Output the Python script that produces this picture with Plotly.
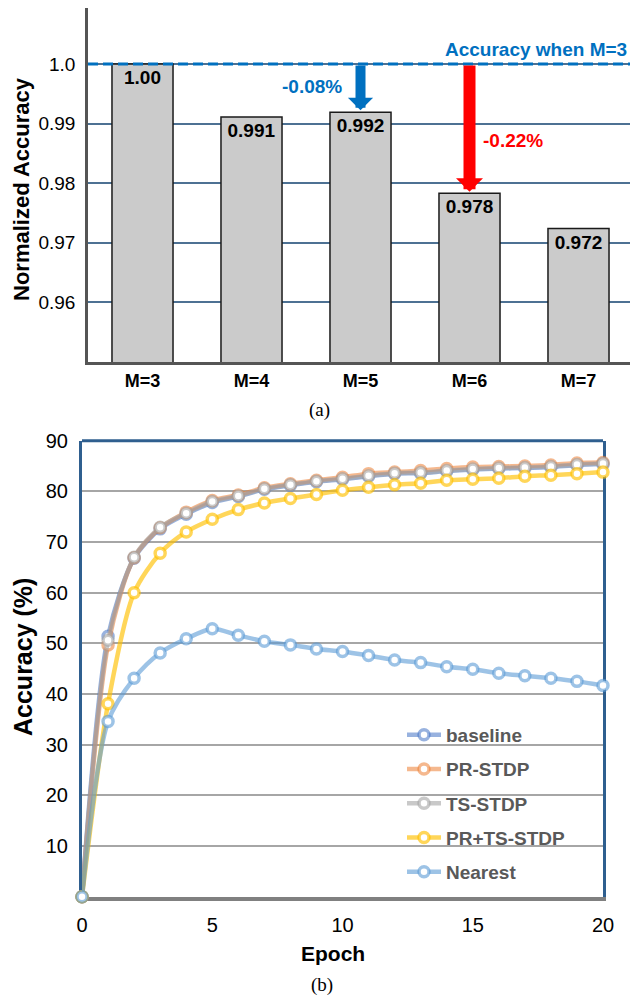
import plotly.graph_objects as go

# The page body has an 8px default margin, so the figure starts 8px in from
# the window's top-left corner; size it so it ends at the window's edges.
PAGE_MARGIN = 8
W, H = 638 - PAGE_MARGIN, 999 - PAGE_MARGIN

# ---------------- data: (a) ----------------
m_labels = ["M=3", "M=4", "M=5", "M=6", "M=7"]
norm_acc = [1.0, 0.9911, 0.9919, 0.9783, 0.9724]
norm_acc_text = ["1.00", "0.991", "0.992", "0.978", "0.972"]
a_ticks = [0.96, 0.97, 0.98, 0.99, 1.0]
a_ticktext = ["0.96", "0.97", "0.98", "0.99", "1.0"]

# ---------------- data: (b) ----------------
epochs = list(range(0, 21))
baseline = [0, 51.4, 66.8, 72.6, 75.5, 77.8, 79.0, 80.4, 81.2, 81.9, 82.4,
            83.0, 83.5, 83.6, 84.0, 84.3, 84.5, 84.6, 84.8, 85.2, 85.4]
pr_stdp = [0, 49.7, 66.9, 72.8, 75.9, 78.2, 79.3, 80.7, 81.5, 82.2, 82.8,
           83.5, 83.8, 84.1, 84.5, 84.8, 84.9, 85.0, 85.2, 85.6, 85.7]
ts_stdp = [0, 50.6, 67.0, 72.9, 75.7, 78.0, 79.1, 80.5, 81.3, 82.0, 82.5,
           83.1, 83.6, 83.7, 84.1, 84.4, 84.6, 84.7, 84.9, 85.3, 85.5]
pr_ts_stdp = [0, 38.1, 60.0, 67.8, 72.0, 74.5, 76.4, 77.7, 78.6, 79.4, 80.2,
              80.8, 81.3, 81.6, 82.2, 82.4, 82.6, 83.0, 83.2, 83.5, 83.8]
nearest = [0, 34.6, 43.1, 48.1, 50.9, 52.9, 51.6, 50.4, 49.7, 48.9, 48.4,
           47.6, 46.7, 46.2, 45.4, 44.9, 44.1, 43.6, 43.1, 42.5, 41.7]
b_xticks = [0, 5, 10, 15, 20]
b_yticks = [10, 20, 30, 40, 50, 60, 70, 80, 90]

series = [
    ("baseline", baseline, "rgba(68,114,196,0.55)"),
    ("PR-STDP", pr_stdp, "rgba(237,125,49,0.55)"),
    ("TS-STDP", ts_stdp, "rgba(165,165,165,0.6)"),
    ("PR+TS-STDP", pr_ts_stdp, "rgba(255,192,0,0.65)"),
    ("Nearest", nearest, "rgba(91,155,213,0.6)"),
]

SANS = "Liberation Sans, Arial, sans-serif"
SERIF = "Liberation Serif, Times New Roman, serif"

fig = go.Figure()

fig.add_trace(go.Bar(
    x=m_labels, y=norm_acc, text=norm_acc_text,
    textposition="inside", insidetextanchor="end", textangle=0,
    textfont=dict(family=SANS, size=19, color="black", weight="bold"),
    marker=dict(color="#cbcbcb", line=dict(color="#1a1a1a", width=1.5)),
    width=0.56, xaxis="x", yaxis="y", showlegend=False,
))

for i, (name, vals, col) in enumerate(series):
    fig.add_trace(go.Scatter(
        x=epochs, y=vals, name=name, mode="lines+markers",
        line=dict(color=col, width=4.5, shape="spline", smoothing=0.8),
        marker=dict(symbol="circle", size=10, color="white",
                    line=dict(color=col, width=3.5)),
        xaxis="x2", yaxis="y2", cliponaxis=False, legendgroup=f"g{i}",
    ))


def px_x(p):
    return min(1.0, max(0.0, (p - PAGE_MARGIN) / W))


def px_y(p):
    return min(1.0, max(0.0, 1 - (p - PAGE_MARGIN) / H))


def label(xp, yp, text, size, color="black", bold=True, family=SANS, angle=0,
          xanchor="center"):
    return dict(x=px_x(xp), y=px_y(yp), xref="paper", yref="paper", text=text,
                showarrow=False, textangle=angle, xanchor=xanchor, yanchor="middle",
                font=dict(family=family, size=size, color=color,
                          weight="bold" if bold else "normal"))


annotations = [
    # arrows from the M=3 reference level down to the bars
    dict(x="M=5", y=norm_acc[2], ax="M=5", ay=norm_acc[0], xref="x", yref="y",
         axref="x", ayref="y", text="", showarrow=True, arrowhead=1,
         arrowwidth=10, arrowsize=0.42, arrowcolor="#0070c0", standoff=2),
    dict(x="M=6", y=norm_acc[3], ax="M=6", ay=norm_acc[0], xref="x", yref="y",
         axref="x", ayref="y", text="", showarrow=True, arrowhead=1,
         arrowwidth=12, arrowsize=0.375, arrowcolor="#ff0000", standoff=1.5),
    label(312, 86, "-0.08%", 19, "#0070c0"),
    label(513, 141, "-0.22%", 19, "#ff0000"),
    label(629, 49, "Accuracy when M=3", 19, "#0070c0", xanchor="right"),
    label(22, 189, "Normalized Accuracy", 22, angle=-90),
    label(319, 410, "(a)", 19, bold=False, family=SERIF),
    label(23, 657, "Accuracy (%)", 25, angle=-90),
    label(333, 953, "Epoch", 21),
    label(322, 985, "(b)", 19, bold=False, family=SERIF),
]

shapes = [
    # reference level (accuracy when M=3)
    dict(type="line", xref="paper", yref="y", x0=px_x(88), x1=1.0,
         y0=norm_acc[0], y1=norm_acc[0], layer="above",
         line=dict(color="#0070c0", width=3, dash="10px,5px")),
    # top frame of chart (b)
    dict(type="line", xref="x2 domain", yref="y2 domain", x0=0, x1=1, y0=1, y1=1,
         layer="above", line=dict(color="#2f5f8f", width=3)),
    # white legend panel covering the gridlines
    dict(type="rect", xref="paper", yref="paper", x0=px_x(377), x1=px_x(591),
         y0=px_y(895), y1=px_y(716), layer="between",
         fillcolor="white", line=dict(width=0)),
]

A_TOP, A_BOT = 8, 362          # page rows of chart (a)'s frame
A_PX_PER_UNIT = 5960           # pixels per unit of normalized accuracy
A_BASE = 0.95

fig.update_layout(
    width=W, height=H,
    margin=dict(l=0, r=0, t=0, b=0, autoexpand=False),
    paper_bgcolor="white", plot_bgcolor="white",
    font=dict(family=SANS, color="black"),
    xaxis=dict(
        domain=[px_x(88), px_x(633)], anchor="y", type="category",
        range=[-0.5, 4.5], showgrid=False, showline=True, mirror=True,
        linecolor="#555555", linewidth=2.5, ticks="", automargin=False,
        tickfont=dict(family=SANS, size=18, color="black", weight="bold"),
        ticklabelstandoff=1,
    ),
    yaxis=dict(
        domain=[px_y(A_BOT), px_y(A_TOP)], anchor="x",
        range=[A_BASE, A_BASE + (A_BOT - A_TOP) / A_PX_PER_UNIT],
        tickvals=a_ticks, ticktext=a_ticktext,
        showgrid=True, gridcolor="#4d7193", gridwidth=1.5, zeroline=False,
        showline=True, linecolor="#555555", linewidth=2.5, ticks="",
        tickfont=dict(family=SANS, size=19, color="black"), automargin=False,
        ticklabelstandoff=6,
    ),
    xaxis2=dict(
        domain=[px_x(82), px_x(603)], anchor="y2",
        range=[0, 20], tickvals=b_xticks, showgrid=False, zeroline=False,
        showline=True, linecolor="#808080", linewidth=4, ticks="",
        tickfont=dict(family=SANS, size=20, color="black"), automargin=False,
        ticklabelstandoff=7, layer="below traces",
    ),
    yaxis2=dict(
        domain=[px_y(896.7), px_y(440.7)], anchor="x2",
        range=[0, 90], tickvals=b_yticks, showgrid=True, gridcolor="#a6a6a6",
        gridwidth=2, zeroline=False, showline=True, mirror=True,
        linecolor="#2f5f8f", linewidth=3, ticks="", automargin=False,
        tickfont=dict(family=SANS, size=20, color="black"),
        ticklabelstandoff=7, layer="below traces",
    ),
    legend=dict(
        x=px_x(402), y=px_y(716), xanchor="left", yanchor="top",
        bgcolor="rgba(0,0,0,0)", borderwidth=0,
        traceorder="grouped", tracegroupgap=6.5, itemwidth=34,
        font=dict(family=SANS, size=19, color="#595959", weight="bold"),
    ),
    annotations=annotations,
    shapes=shapes,
)

fig.write_html("out.html")
